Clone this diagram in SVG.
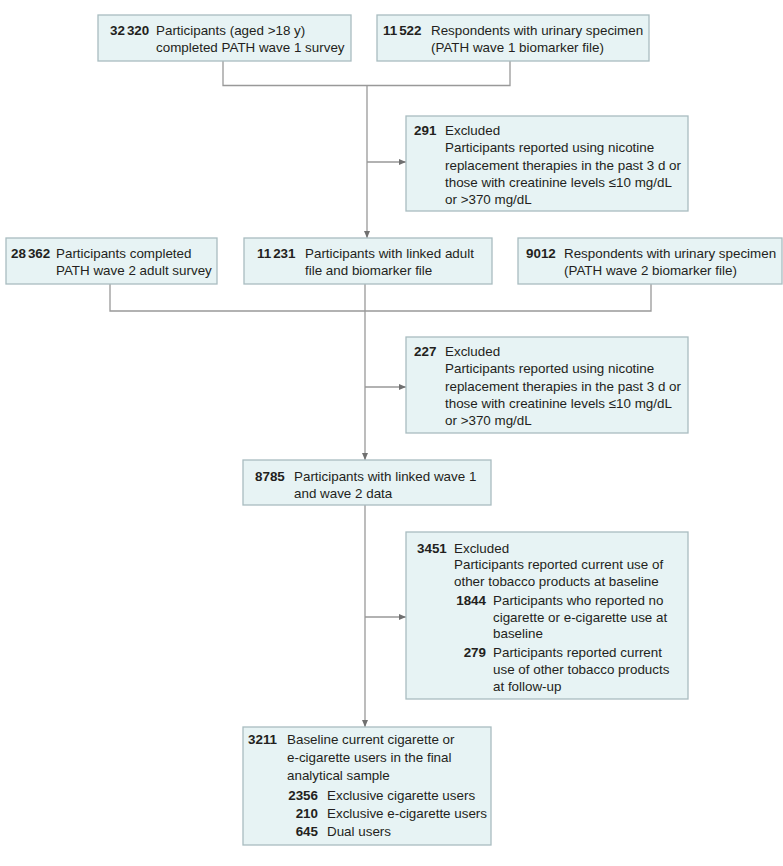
<svg xmlns="http://www.w3.org/2000/svg" width="783" height="866" viewBox="0 0 783 866">
<style>
.box{fill:#e7f3f4;stroke:#a9bcc0;stroke-width:1.3}
text{font-family:"Liberation Sans",Arial,sans-serif;font-size:13.4px;fill:#231f20}
.b{font-weight:bold}
.e{text-anchor:end}
.ln{fill:none;stroke:#999999;stroke-width:1.3}
</style>
<defs>
<marker id="ah" markerWidth="8" markerHeight="8" refX="7" refY="3.5" orient="auto" markerUnits="userSpaceOnUse">
<path d="M0,0.5 L7,3.5 L0,6.5 Z" fill="#707070"/>
</marker>
</defs>
<rect width="783" height="866" fill="#fff"/>
<g id="connectors">
<path class="ln" d="M223,61 V85.5 H510 V61"/>
<path class="ln" d="M367,85.5 V238" marker-end="url(#ah)"/>
<path class="ln" d="M367,162 H406" marker-end="url(#ah)"/>
<path class="ln" d="M110,284 V311 H651 V284"/>
<path class="ln" d="M365,284 V460" marker-end="url(#ah)"/>
<path class="ln" d="M365,387 H406" marker-end="url(#ah)"/>
<path class="ln" d="M365,505 V727" marker-end="url(#ah)"/>
<path class="ln" d="M365,617 H406" marker-end="url(#ah)"/>
</g>
<g id="n1">
<rect class="box" x="98" y="15" width="253" height="46"/>
<text class="b" x="110" y="35">32<tspan dx="2">320</tspan></text>
<text x="156" y="35">Participants (aged &gt;18 y)</text>
<text x="156" y="52">completed PATH wave 1 survey</text>
</g>
<g id="n2">
<rect class="box" x="377" y="15" width="272" height="46"/>
<text class="b" x="383" y="35">11<tspan dx="2">522</tspan></text>
<text x="431" y="35">Respondents with urinary specimen</text>
<text x="431" y="52">(PATH wave 1 biomarker file)</text>
</g>
<g id="ex1">
<rect class="box" x="406" y="116" width="282" height="95"/>
<text class="b" x="414" y="135">291</text>
<text x="445" y="135">Excluded</text>
<text x="445" y="152">Participants reported using nicotine</text>
<text x="445" y="169.5">replacement therapies in the past 3 d or</text>
<text x="445" y="187">those with creatinine levels ≤10 mg/dL</text>
<text x="445" y="204">or &gt;370 mg/dL</text>
</g>
<g id="n3">
<rect class="box" x="6" y="238" width="211" height="46"/>
<text class="b" x="11" y="258">28<tspan dx="2">362</tspan></text>
<text x="56" y="258">Participants completed</text>
<text x="56" y="275">PATH wave 2 adult survey</text>
</g>
<g id="n4">
<rect class="box" x="244" y="238" width="248" height="46"/>
<text class="b" x="257" y="258">11<tspan dx="2">231</tspan></text>
<text x="305" y="258">Participants with linked adult</text>
<text x="305" y="275">file and biomarker file</text>
</g>
<g id="n5">
<rect class="box" x="518" y="238" width="264" height="46"/>
<text class="b" x="526" y="258">9012</text>
<text x="564" y="258">Respondents with urinary specimen</text>
<text x="564" y="275">(PATH wave 2 biomarker file)</text>
</g>
<g id="ex2">
<rect class="box" x="406" y="337" width="282" height="96"/>
<text class="b" x="414" y="356">227</text>
<text x="445" y="356">Excluded</text>
<text x="445" y="373">Participants reported using nicotine</text>
<text x="445" y="391">replacement therapies in the past 3 d or</text>
<text x="445" y="408">those with creatinine levels ≤10 mg/dL</text>
<text x="445" y="425">or &gt;370 mg/dL</text>
</g>
<g id="n6">
<rect class="box" x="243" y="460" width="248" height="45"/>
<text class="b" x="255" y="481">8785</text>
<text x="294" y="481">Participants with linked wave 1</text>
<text x="294" y="498">and wave 2 data</text>
</g>
<g id="ex3">
<rect class="box" x="406" y="532" width="282" height="167"/>
<text class="b" x="417" y="553">3451</text>
<text x="454" y="553">Excluded</text>
<text x="454" y="569">Participants reported current use of</text>
<text x="454" y="586">other tobacco products at baseline</text>
<text class="b e" x="486" y="605">1844</text>
<text x="493" y="605">Participants who reported no</text>
<text x="493" y="622">cigarette or e-cigarette use at</text>
<text x="493" y="638">baseline</text>
<text class="b e" x="486" y="657">279</text>
<text x="493" y="657">Participants reported current</text>
<text x="493" y="674">use of other tobacco products</text>
<text x="493" y="691">at follow-up</text>
</g>
<g id="n7">
<rect class="box" x="243" y="727" width="248" height="118"/>
<text class="b" x="248" y="744">3211</text>
<text x="287" y="744">Baseline current cigarette or</text>
<text x="287" y="762">e-cigarette users in the final</text>
<text x="287" y="780">analytical sample</text>
<text class="b e" x="318" y="800">2356</text>
<text x="327" y="800">Exclusive cigarette users</text>
<text class="b e" x="318" y="818">210</text>
<text x="327" y="818">Exclusive e-cigarette users</text>
<text class="b e" x="318" y="836">645</text>
<text x="327" y="836">Dual users</text>
</g>
</svg>
